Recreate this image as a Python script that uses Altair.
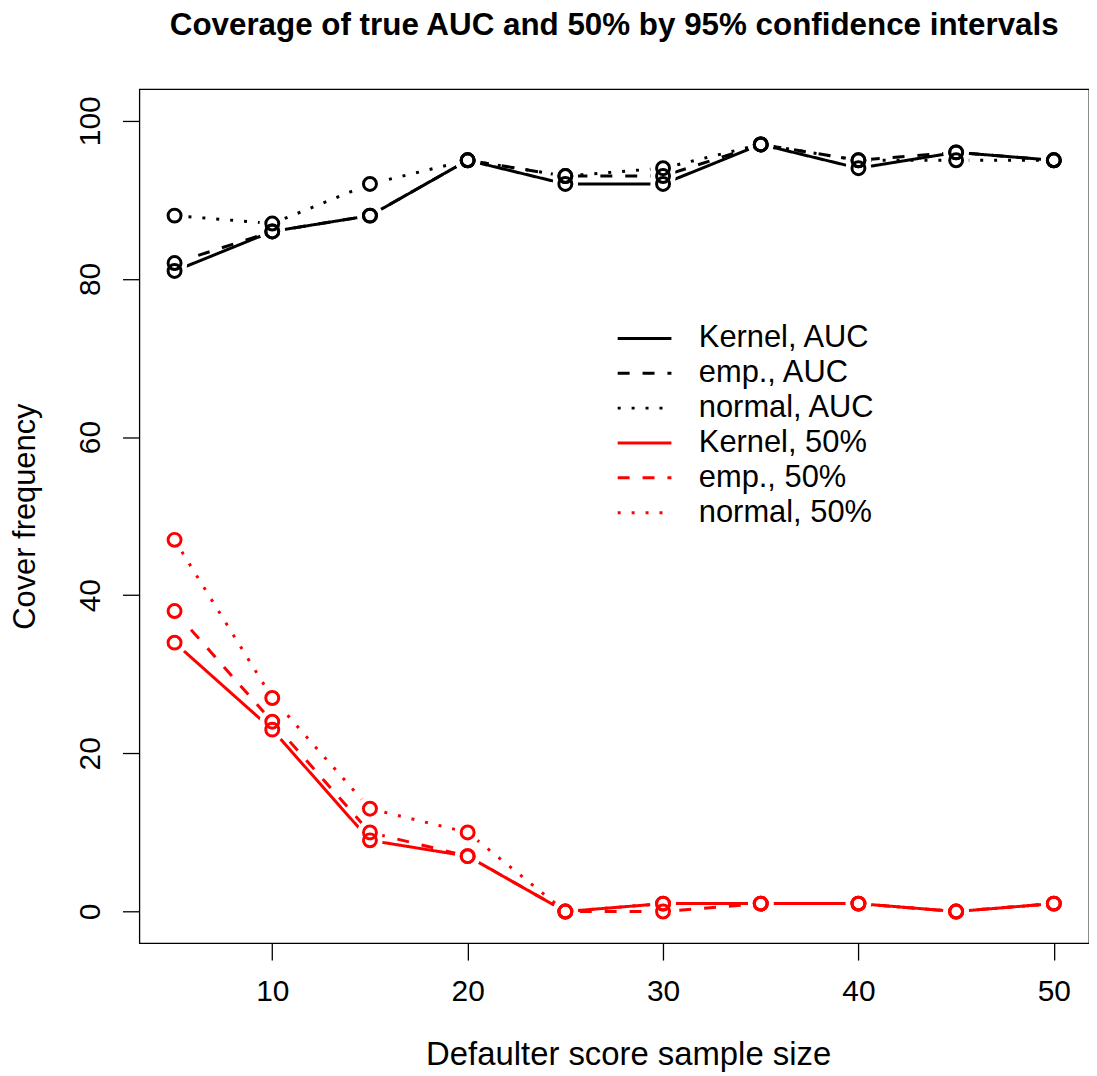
import altair as alt
import pandas as pd

sample_size = [5, 10, 15, 20, 25, 30, 35, 40, 45, 50]
kernel_auc = [81, 86, 88, 95, 92, 92, 97, 94, 96, 95]
emp_auc = [82, 86, 88, 95, 93, 93, 97, 95, 96, 95]
normal_auc = [88, 87, 92, 95, 93, 94, 97, 95, 95, 95]
kernel_50 = [34, 23, 9, 7, 0, 1, 1, 1, 0, 1]
emp_50 = [38, 24, 10, 7, 0, 0, 1, 1, 0, 1]
normal_50 = [47, 27, 13, 10, 0, 1, 1, 1, 0, 1]

series_names = ["Kernel, AUC", "emp., AUC", "normal, AUC",
                "Kernel, 50%", "emp., 50%", "normal, 50%"]
series_values = [kernel_auc, emp_auc, normal_auc, kernel_50, emp_50, normal_50]
series_colors = ["#000000", "#000000", "#000000", "#FF0000", "#FF0000", "#FF0000"]
series_dashes = [[1, 0], [12, 13], [3, 11], [1, 0], [12, 13], [3, 11]]

rows = []
for name, vals in zip(series_names, series_values):
    for xv, yv in zip(sample_size, vals):
        rows.append({"size": xv, "freq": yv, "series": name})
df = pd.DataFrame(rows)

FONT = "Liberation Sans"

x_enc = alt.X("size:Q", scale=alt.Scale(domain=[3.2, 51.8], nice=False, zero=False),
              axis=alt.Axis(values=[10, 20, 30, 40, 50], title="Defaulter score sample size",
                            grid=False, domain=False, tickSize=17, tickWidth=1.3, tickColor="black",
                            labelFontSize=30, labelFont=FONT, labelColor="black",
                            labelBaseline="alphabetic", labelPadding=41, labelFlush=False,
                            titleFontSize=33, titleFont=FONT, titleFontWeight="normal",
                            titleColor="black", titleBaseline="alphabetic",
                            titleX=491, titleY=122, titleAlign="center"))
y_enc = alt.Y("freq:Q", scale=alt.Scale(domain=[-4, 104], nice=False, zero=False),
              axis=alt.Axis(values=[0, 20, 40, 60, 80, 100], title="Cover frequency",
                            grid=False, domain=False, tickSize=17, tickWidth=1.3, tickColor="black",
                            labelFontSize=30, labelFont=FONT, labelColor="black",
                            labelAngle=270, labelAlign="center", labelBaseline="alphabetic",
                            labelPadding=23, labelFlush=False,
                            titleFontSize=31, titleFont=FONT, titleFontWeight="normal",
                            titleColor="black", titleAngle=270, titleBaseline="alphabetic",
                            titleAlign="center", titleX=-105, titleY=429))

legend = alt.Legend(title=None, orient="none", legendX=492, legendY=235,
                    labelFontSize=31, labelFont=FONT, labelColor="black",
                    symbolType="M-3,0H3", symbolSize=324, symbolStrokeWidth=3,
                    labelOffset=39, rowPadding=3, padding=0, labelLimit=400)

lines = alt.Chart(df).mark_line(strokeWidth=3).encode(
    x=x_enc, y=y_enc,
    color=alt.Color("series:N", sort=series_names,
                    scale=alt.Scale(domain=series_names, range=series_colors), legend=legend),
    strokeDash=alt.StrokeDash("series:N", sort=series_names,
                              scale=alt.Scale(domain=series_names, range=series_dashes), legend=legend),
    detail="series:N",
)

gaps = alt.Chart(df).mark_point(filled=True, color="white", opacity=1, size=650).encode(
    x="size:Q", y="freq:Q")

points = alt.Chart(df).mark_point(filled=False, strokeWidth=3, size=169, opacity=1).encode(
    x="size:Q", y="freq:Q",
    stroke=alt.Stroke("series:N", scale=alt.Scale(domain=series_names, range=series_colors),
                      legend=None),
)

chart = alt.layer(lines, gaps, points).properties(
    width=954, height=858,
    title=alt.TitleParams("Coverage of true AUC and 50% by 95% confidence intervals",
                          font=FONT, fontSize=31.5, fontWeight="bold", color="black",
                          anchor="middle", baseline="alphabetic", offset=23),
    autosize=alt.AutoSizeParams(type="none"),
    padding={"left": 132, "top": 79, "right": 0, "bottom": 131},
).configure(background="white").configure_view(stroke="black", strokeWidth=1.3)

chart.save("out.html", embed_options={"renderer": "svg", "actions": False})
